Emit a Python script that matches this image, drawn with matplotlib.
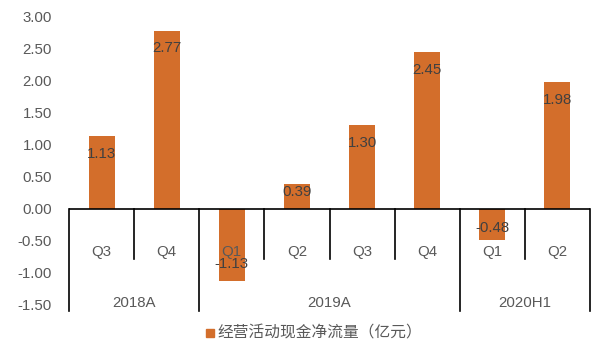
import matplotlib
matplotlib.use("Agg")
import matplotlib.pyplot as plt
from matplotlib.transforms import blended_transform_factory
from matplotlib.patches import Rectangle

quarters = ["Q3", "Q4", "Q1", "Q2", "Q3", "Q4", "Q1", "Q2"]
groups = ["2018A", "2019A", "2020H1"]
group_sizes = [2, 4, 2]
values = [1.13, 2.77, -1.13, 0.39, 1.30, 2.45, -0.48, 1.98]
value_labels = ["1.13", "2.77", "-1.13", "0.39", "1.30", "2.45", "-0.48", "1.98"]
yticks = [-1.5, -1.0, -0.5, 0.0, 0.5, 1.0, 1.5, 2.0, 2.5, 3.0]
legend_label = "经营活动现金净流量（亿元）"

# layout: label inset from bar end, in pixels
label_inset_px = [18, 17, 17, 8, 18, 18, 12, 18]

bar_color = "#D36E2B"
text_gray = "#595959"
label_dark = "#404040"
fs = 10.8

W, H = 592, 347
fig = plt.figure(figsize=(W / 100, H / 100), dpi=100)
ax = fig.add_axes([69 / W, 1 - 305 / H, (590 - 69) / W, (305 - 16.3) / H])

x = list(range(len(values)))
ax.bar(x, values, width=0.4, color=bar_color, zorder=2)
ax.set_xlim(-0.5, len(values) - 0.5)
ax.set_ylim(-1.5, 3.0)

for s in ["top", "right", "left", "bottom"]:
    ax.spines[s].set_visible(False)
ax.set_xticks([])
ax.set_yticks(yticks)
ax.set_yticklabels([f"{v:.2f}" for v in yticks], fontsize=fs,
                   color=text_gray, family="Liberation Sans")
ax.tick_params(axis="y", length=0, pad=17 * 0.72)

# zero axis line
ax.axhline(0, color="black", lw=1.2, zorder=3)

trans = blended_transform_factory(ax.transData, ax.transAxes)
zero_frac = (0 - (-1.5)) / 4.5
minor_bottom = (305 - 259) / 288.7
major_bottom = (305 - 310.7) / 288.7

# group boundaries
bounds = [0]
for g in group_sizes:
    bounds.append(bounds[-1] + g)
for b in bounds:
    ax.plot([b - 0.5, b - 0.5], [zero_frac, major_bottom], color="black",
            lw=1.2, transform=trans, clip_on=False, zorder=3)
for i in range(1, len(values)):
    if i not in bounds:
        ax.plot([i - 0.5, i - 0.5], [zero_frac, minor_bottom], color="black",
                lw=1.2, transform=trans, clip_on=False, zorder=3)

# quarter labels (drawn above bars, as in the reference)
for i, q in enumerate(quarters):
    ax.text(i, (305 - 252) / 288.7, q, transform=trans, ha="center", va="center",
            fontsize=fs, color=text_gray, family="Liberation Sans", zorder=4)

# group labels
for gi, g in enumerate(groups):
    cx = (bounds[gi] + bounds[gi + 1] - 1) / 2
    ax.text(cx, (305 - 303) / 288.7, g, transform=trans, ha="center", va="center",
            fontsize=fs, color=text_gray, family="Liberation Sans")

# value labels
for i, (v, lab) in enumerate(zip(values, value_labels)):
    off = -label_inset_px[i] * 0.72 if v >= 0 else label_inset_px[i] * 0.72
    ax.annotate(lab, (i, v), xytext=(0, off), textcoords="offset points",
                ha="center", va="center", fontsize=fs, color=label_dark,
                family="Liberation Sans", zorder=5)

# legend
fig.patches.append(Rectangle((206 / W, 1 - 337 / H), 8 / W, 8 / H,
                             transform=fig.transFigure, color=bar_color))
fig.text(217 / W, 1 - 333 / H, legend_label, ha="left", va="center",
         fontsize=11.3, color=text_gray,
         family=["Noto Sans CJK SC", "DejaVu Sans"])

fig.savefig("out.png", dpi=100)
